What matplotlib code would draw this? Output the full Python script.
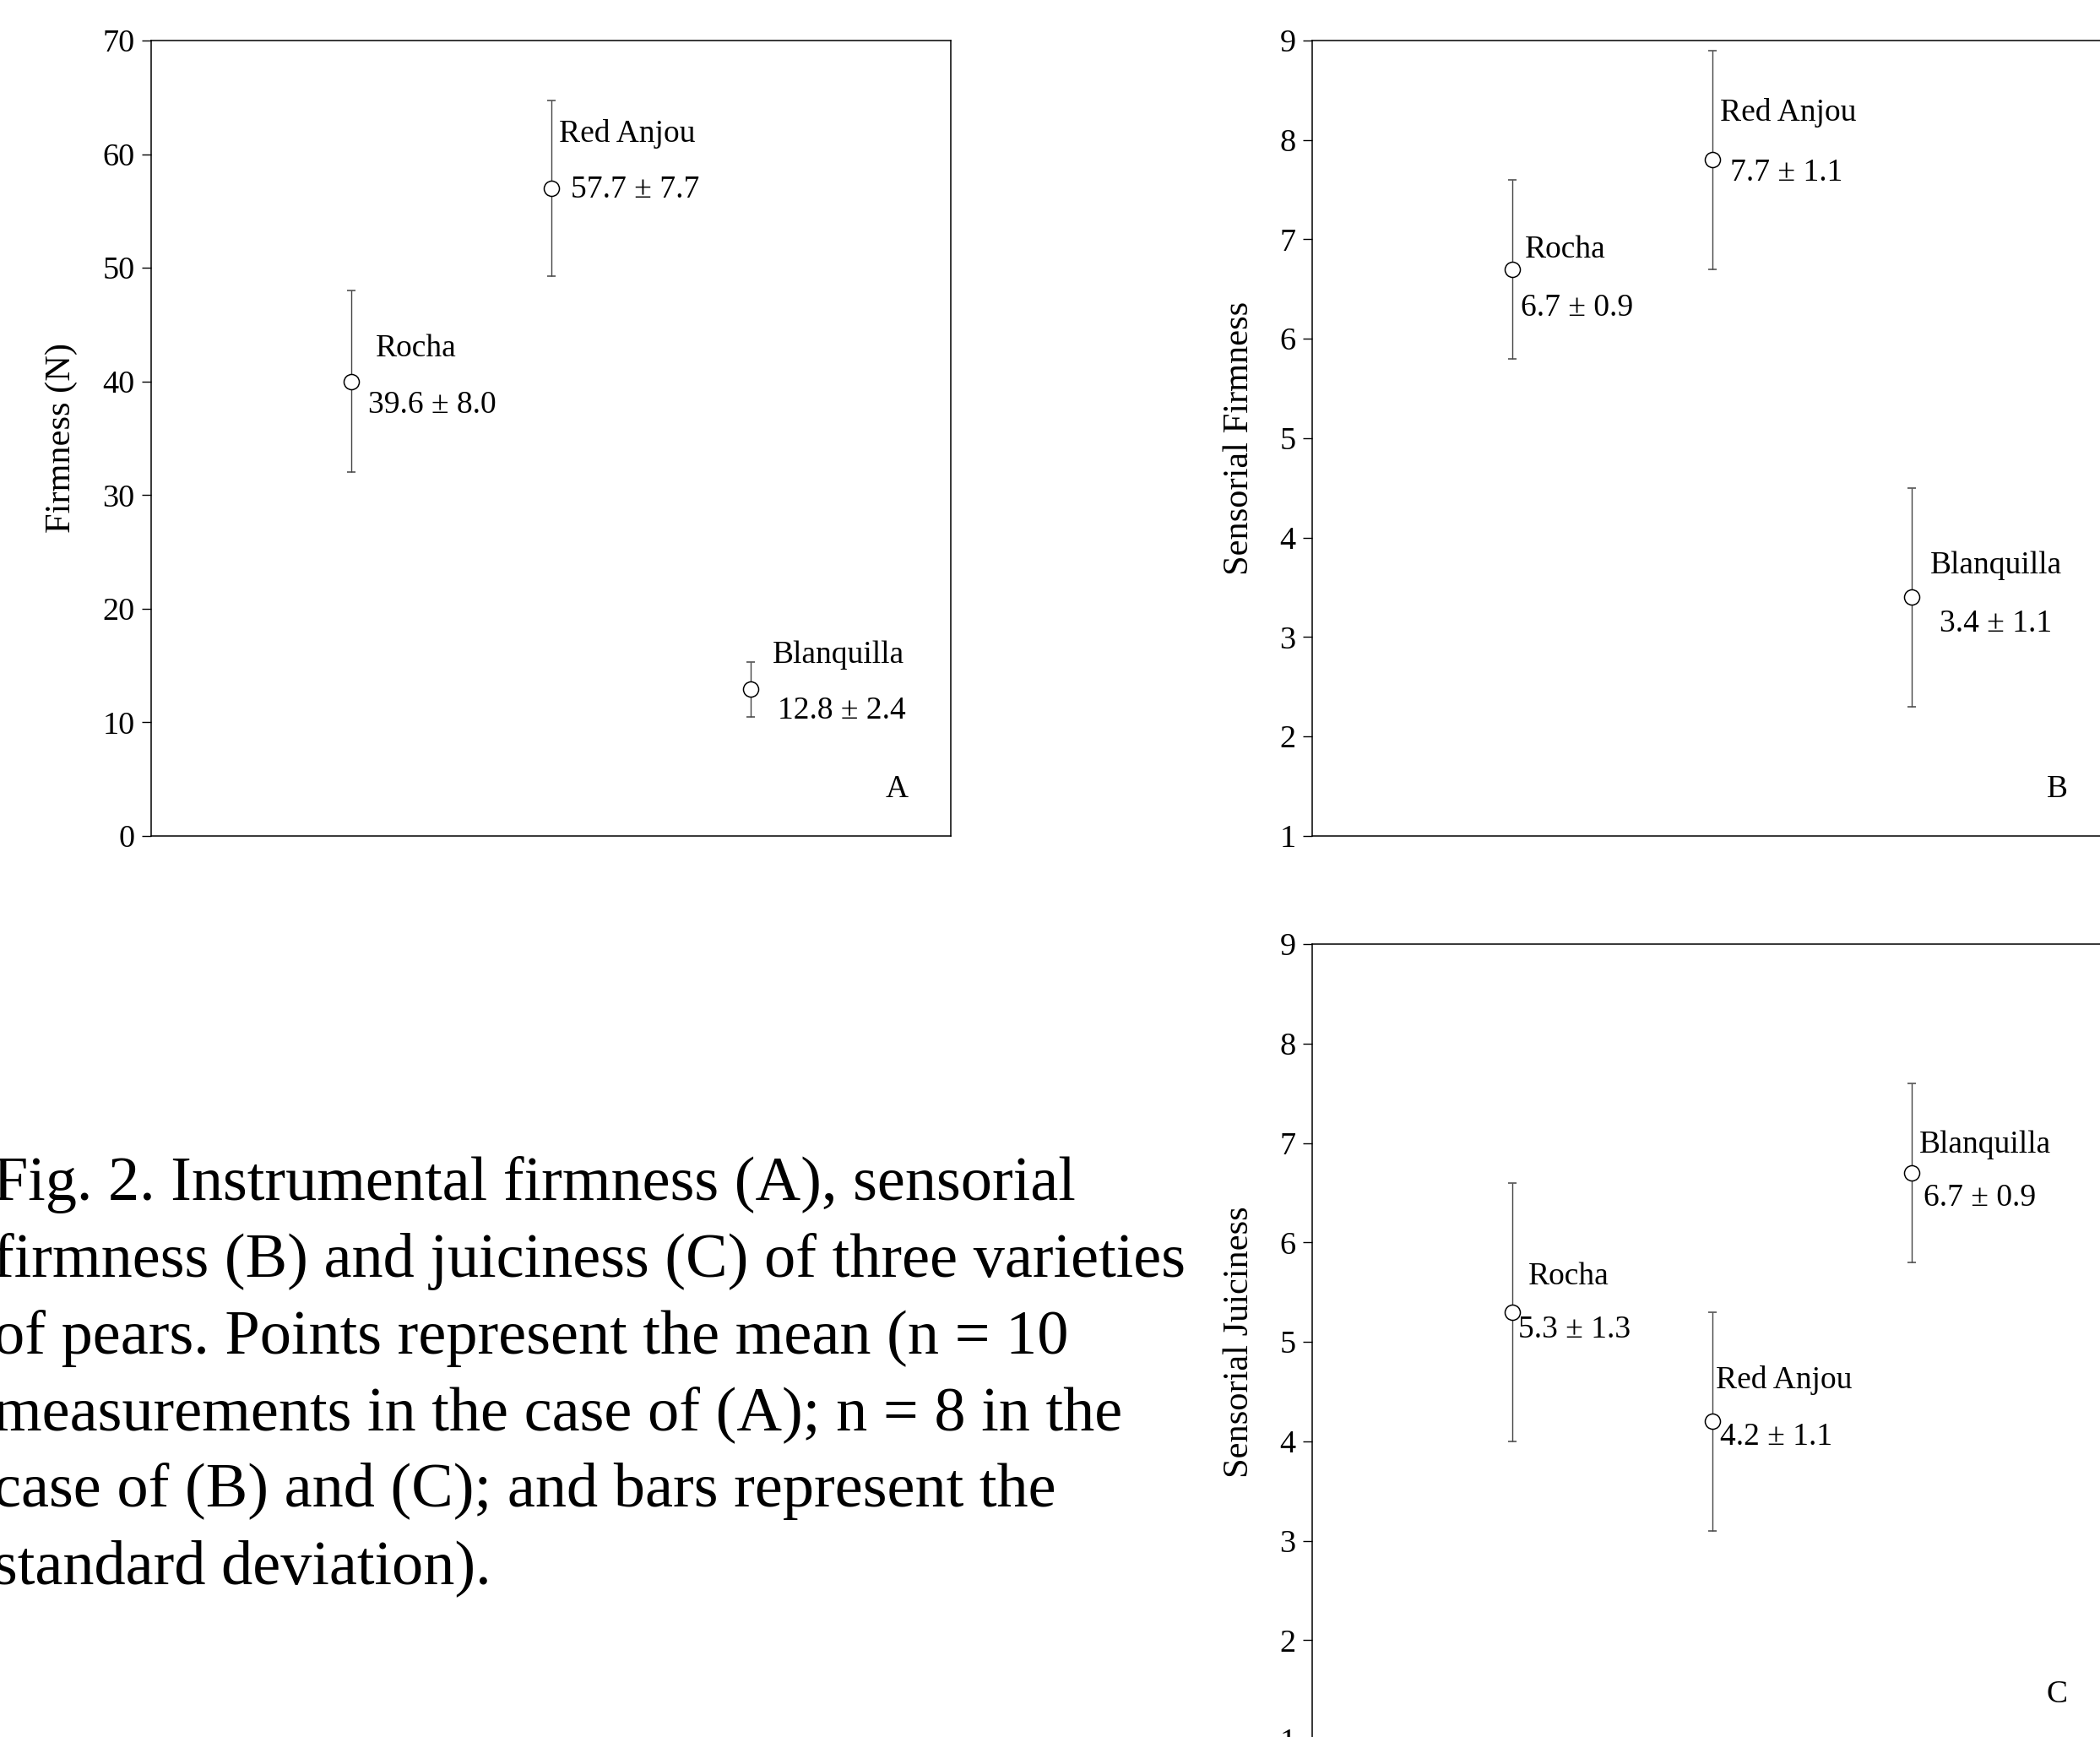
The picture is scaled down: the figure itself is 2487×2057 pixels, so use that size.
import numpy as np
import matplotlib.pyplot as plt

plt.rcParams['font.family'] = ['Liberation Serif', 'DejaVu Serif']

varieties = ["Rocha", "Red Anjou", "Blanquilla"]
xpos = [1, 2, 3]

# panel A: instrumental firmness (N)
firm_mean = [40.0, 57.0, 12.9]
firm_sd = [8.0, 7.7, 2.4]
firm_lbl = ["39.6 \u00b1 8.0", "57.7 \u00b1 7.7", "12.8 \u00b1 2.4"]

# panel B: sensorial firmness
sfirm_mean = [6.7, 7.8, 3.4]
sfirm_sd = [0.9, 1.1, 1.1]
sfirm_lbl = ["6.7 \u00b1 0.9", "7.7 \u00b1 1.1", "3.4 \u00b1 1.1"]

# panel C: sensorial juiciness
juic_mean = [5.3, 4.2, 6.7]
juic_sd = [1.3, 1.1, 0.9]
juic_lbl = ["5.3 \u00b1 1.3", "4.2 \u00b1 1.1", "6.7 \u00b1 0.9"]

caption = [
    "Fig. 2. Instrumental firmness (A), sensorial",
    "firmness (B) and juiciness (C) of three varieties",
    "of pears. Points represent the mean (n = 10",
    "measurements in the case of (A); n = 8 in the",
    "case of (B) and (C); and bars represent the",
    "standard deviation).",
]

W, H = 2487, 2057
fig = plt.figure(figsize=(W / 100, H / 100), dpi=100)

aw = 947 / W
ah = 942 / H


def panel(rect, mean, sd, lbls, name_xy, val_xy, ylim, yticks, ylabel, letter, letter_xy, lab_x):
    ax = fig.add_axes(rect)
    ax.errorbar(xpos, mean, yerr=sd, fmt='o', ms=13, mfc='white', mec='black', mew=1.1,
                ecolor='#444444', elinewidth=1.0, capsize=3.6, capthick=1.0)
    ax.set_xlim(0, 4)
    ax.set_ylim(*ylim)
    ax.set_yticks(yticks)
    ax.set_xticks([])
    ax.tick_params(axis='y', direction='out', length=8, width=1, labelsize=27.5, pad=6)
    for s in ax.spines.values():
        s.set_linewidth(1.1)
    ax.set_ylabel(ylabel, fontsize=30.5)
    ax.yaxis.set_label_coords(lab_x, 0.5)
    for i in range(3):
        ax.text(name_xy[i][0], name_xy[i][1], varieties[i], fontsize=27, va='center', ha='left')
        ax.text(val_xy[i][0], val_xy[i][1], lbls[i], fontsize=27, va='center', ha='left')
    ax.text(letter_xy[0], letter_xy[1], letter, fontsize=27, va='center', ha='center')
    return ax


panel([179 / W, 1 - 990 / H, aw, ah], firm_mean, firm_sd, firm_lbl,
      [(1.125, 42.9), (2.04, 61.8), (3.11, 15.95)],
      [(1.085, 37.9), (2.10, 56.9), (3.135, 11.0)],
      (0, 70), range(0, 71, 10), "Firmness (N)", "A", (3.73, 4.1), -0.092)

panel([1554 / W, 1 - 990 / H, aw, ah], sfirm_mean, sfirm_sd, sfirm_lbl,
      [(1.065, 6.90), (2.04, 8.27), (3.09, 3.72)],
      [(1.045, 6.31), (2.09, 7.67), (3.14, 3.13)],
      (1, 9), range(1, 10), "Sensorial Firmness", "B", (3.725, 1.47), -0.071)

panel([1554 / W, 1 - 2060 / H, aw, ah], juic_mean, juic_sd, juic_lbl,
      [(1.08, 5.66), (2.02, 4.61), (3.035, 6.98)],
      [(1.03, 5.12), (2.04, 4.04), (3.06, 6.45)],
      (1, 9), range(1, 10), "Sensorial Juiciness", "C", (3.725, 1.45), -0.071)

for i, line in enumerate(caption):
    b = 1421 + 90.8 * i
    fig.text(-8 / W, 1 - b / H, line, fontsize=53.5, va='baseline', ha='left')

fig.savefig("out.png", dpi=100)
